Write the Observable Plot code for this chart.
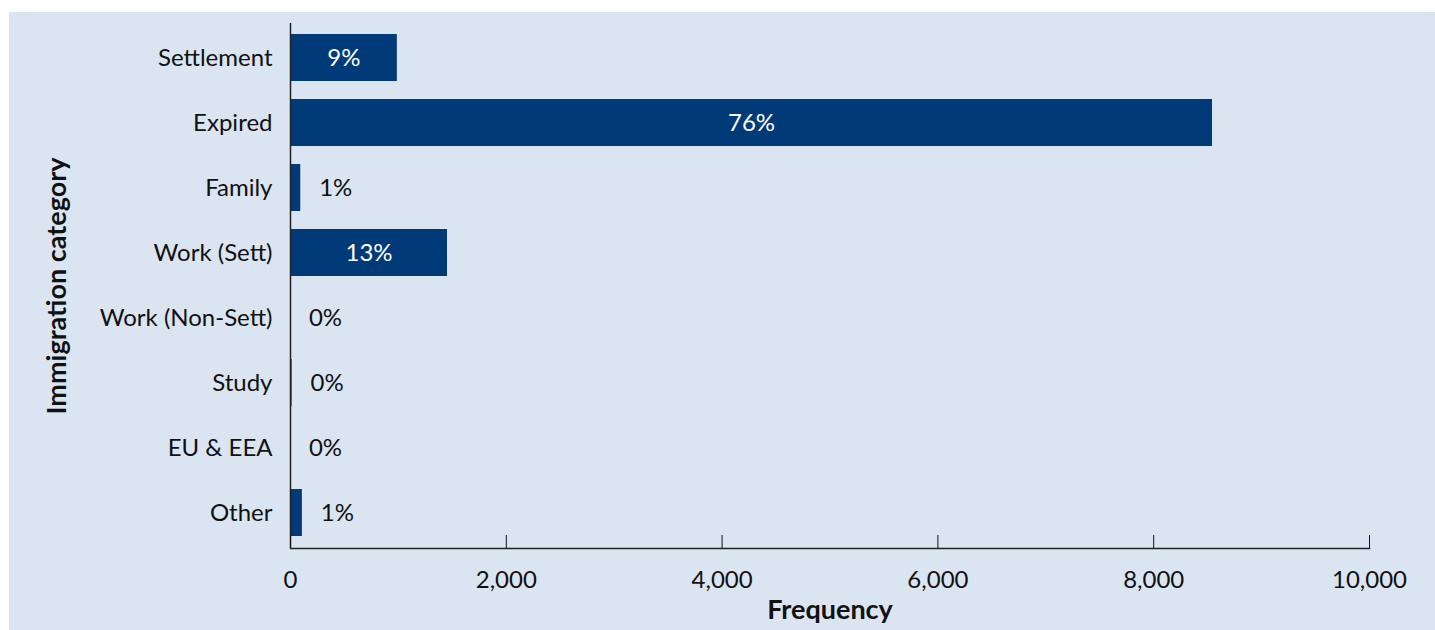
<!DOCTYPE html>
<html>
<head>
<meta charset="utf-8">
<script src="https://cdn.jsdelivr.net/npm/d3@7"></script>
<script src="https://cdn.jsdelivr.net/npm/@observablehq/plot@0.6"></script>
<style>
  html, body { margin: 0; padding: 0; background: #ffffff; }
  #panel { position: absolute; left: 9px; top: 12px; width: 1426px; height: 618px; background: #dae5f1; }
  #panel svg { display: block; }
</style>
</head>
<body>
<div id="panel"></div>
<script>
const categories = ["Settlement", "Expired", "Family", "Work (Sett)", "Work (Non-Sett)", "Study", "EU & EEA", "Other"];
const frequencies = [990, 8545, 95, 1455, 0, 15, 0, 110];
const percentLabels = ["9%", "76%", "1%", "13%", "0%", "0%", "0%", "1%"];
const xTicks = [0, 2000, 4000, 6000, 8000, 10000];

const data = categories.map((c, i) => ({category: c, value: frequencies[i], label: percentLabels[i]}));
const isInside = d => d.value > 500;

const FONT = "Lato, 'Open Sans', sans-serif";
const BAR = "#003a78";

const chart = Plot.plot({
  width: 1426,
  height: 618,
  marginLeft: 281,
  marginRight: 66,
  marginTop: 11,
  marginBottom: 82,
  style: {background: "transparent", fontFamily: FONT, fontSize: "24px", color: "#111"},
  x: {domain: [0, 10000]},
  y: {domain: categories, padding: 0.271, paddingOuter: 0.147},
  marks: [
    Plot.barX(data, {x: "value", y: "category", fill: BAR}),
    Plot.text(data.filter(isInside), {x: d => d.value / 2, y: "category", text: "label", fill: "white", fontSize: 24, fontFamily: FONT}),
    Plot.text(data.filter(d => !isInside(d)), {x: "value", y: "category", text: "label", fill: "#111", dx: 35, fontSize: 24, fontFamily: FONT}),
    Plot.ruleX([0], {stroke: "#222", strokeWidth: 1.5}),
    Plot.axisY({tickSize: 0, tickPadding: 18, fontSize: 24, label: "Immigration category", labelAnchor: "center", labelArrow: "none", labelOffset: 244}),
    Plot.axisX({ticks: xTicks, tickSize: -13, tickPadding: 35, tickFormat: d3.format(","), fontSize: 24, label: "Frequency", labelAnchor: "center", labelArrow: "none", labelOffset: 70}),
    Plot.frame({anchor: "bottom", stroke: "#222", strokeWidth: 1.5})
  ]
});
document.getElementById("panel").appendChild(chart);
// axis titles: bold and larger
chart.querySelectorAll("[aria-label='x-axis label'] text, [aria-label='y-axis label'] text").forEach(t => {
  t.setAttribute("font-weight", "bold");
  t.setAttribute("font-size", "27");
});
</script>
</body>
</html>
